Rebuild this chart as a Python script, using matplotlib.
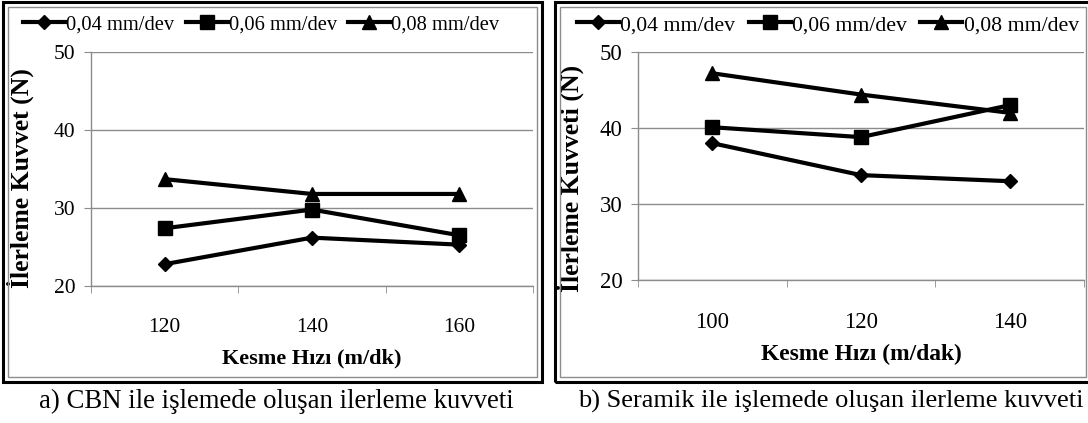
import matplotlib
matplotlib.use("Agg")
import matplotlib.pyplot as plt
from matplotlib.patches import Rectangle
from matplotlib.lines import Line2D

plt.rcParams['font.family'] = ['Liberation Serif', 'DejaVu Serif']

# Data
feeds = ["0,04 mm/dev", "0,06 mm/dev", "0,08 mm/dev"]
markers = ["D", "s", "^"]

cbn_speeds = ["120", "140", "160"]
cbn_004 = [22.8, 26.2, 25.3]
cbn_006 = [27.4, 29.8, 26.5]
cbn_008 = [33.7, 31.8, 31.8]

ser_speeds = ["100", "120", "140"]
ser_004 = [38.0, 33.8, 33.0]
ser_006 = [40.1, 38.8, 43.0]
ser_008 = [47.2, 44.4, 42.0]

W, H = 1088, 423
fig = plt.figure(figsize=(W / 100, H / 100), dpi=100)
GRAY = "#8c8c8c"
LW = 3.0


def msize(m):
    return 7.5 if m == "D" else 10


def px_rect(x0, y0, x1, y1):
    return [x0 / W, 1 - y1 / H, (x1 - x0) / W, (y1 - y0) / H]


def frame(x0, y0, x1, y1):
    fig.patches.append(Rectangle((x0 / W, 1 - y1 / H), (x1 - x0) / W, (y1 - y0) / H,
                                 transform=fig.transFigure, fill=False,
                                 edgecolor="black", linewidth=2.2))
    d = 5
    fig.patches.append(Rectangle(((x0 + d) / W, 1 - (y1 - d) / H), (x1 - x0 - 2 * d) / W,
                                 (y1 - y0 - 2 * d) / H, transform=fig.transFigure,
                                 fill=False, edgecolor=GRAY, linewidth=1.0))


def panel(rect, speeds, series, ylabel, xlabel, legend_x, ylabel_x, scale, colsp):
    ax = fig.add_axes(rect)
    x = range(len(speeds))
    for vals, m in zip(series, markers):
        ax.plot(x, vals, color="black", lw=LW, marker=m, ms=msize(m), zorder=3)
    ax.set_xlim(-0.5, len(speeds) - 0.5)
    ax.set_ylim(20, 50)
    ax.set_yticks([20, 30, 40, 50])
    ax.yaxis.grid(True, color=GRAY, lw=1.0)
    ax.set_axisbelow(True)
    for s in ["top", "right"]:
        ax.spines[s].set_visible(False)
    for s in ["left", "bottom"]:
        ax.spines[s].set_color(GRAY)
        ax.spines[s].set_linewidth(1.0)
    ax.set_xticks(list(x))
    ax.set_xticklabels(speeds)
    ax.set_xticks([i - 0.5 for i in range(len(speeds) + 1)], minor=True)
    ax.tick_params(axis="x", which="major", length=0, pad=23, labelsize=15.5 * scale)
    ax.tick_params(axis="x", which="minor", length=5, color=GRAY, direction="out")
    ax.tick_params(axis="y", length=5, color=GRAY, direction="out", pad=6,
                   labelsize=15.5 * scale)
    ax.set_xlabel(xlabel, fontsize=16 * scale, fontweight="bold", labelpad=8)
    ax.set_ylabel(ylabel, fontsize=18.5, fontweight="bold")
    ax.yaxis.set_label_coords(ylabel_x / W, 1 - 178 / H, transform=fig.transFigure)
    handles = [Line2D([], [], color="black", lw=LW, marker=m, ms=msize(m)) for m in markers]
    fig.legend(handles, feeds, loc="center left", bbox_to_anchor=(legend_x / W, 1 - 25 / H),
               ncol=3, frameon=False, fontsize=14.8 * scale, handlelength=2.05 / scale,
               handletextpad=0.05, columnspacing=colsp, borderaxespad=0, borderpad=0)
    return ax


frame(3, 2, 542, 382)
frame(555, 2, 1091, 382)

panel(px_rect(91, 52, 533, 286), cbn_speeds, [cbn_004, cbn_006, cbn_008],
      "İlerleme Kuvvet (N)", "Kesme Hızı (m/dk)", 23, 34, 1.0, 0.55)
panel(px_rect(638, 52, 1084, 280), ser_speeds, [ser_004, ser_006, ser_008],
      "İlerleme Kuvveti (N)", "Kesme Hızı (m/dak)", 577, 584, 1.06, 0.62)

fig.text(276 / W, 1 - 401 / H, "a) CBN ile işlemede oluşan ilerleme kuvveti",
         ha="center", va="center", fontsize=19.3)
fig.text(831 / W, 1 - 401 / H, "b) Seramik ile işlemede oluşan ilerleme kuvveti",
         ha="center", va="center", fontsize=19)

fig.savefig("out.png", dpi=100)
